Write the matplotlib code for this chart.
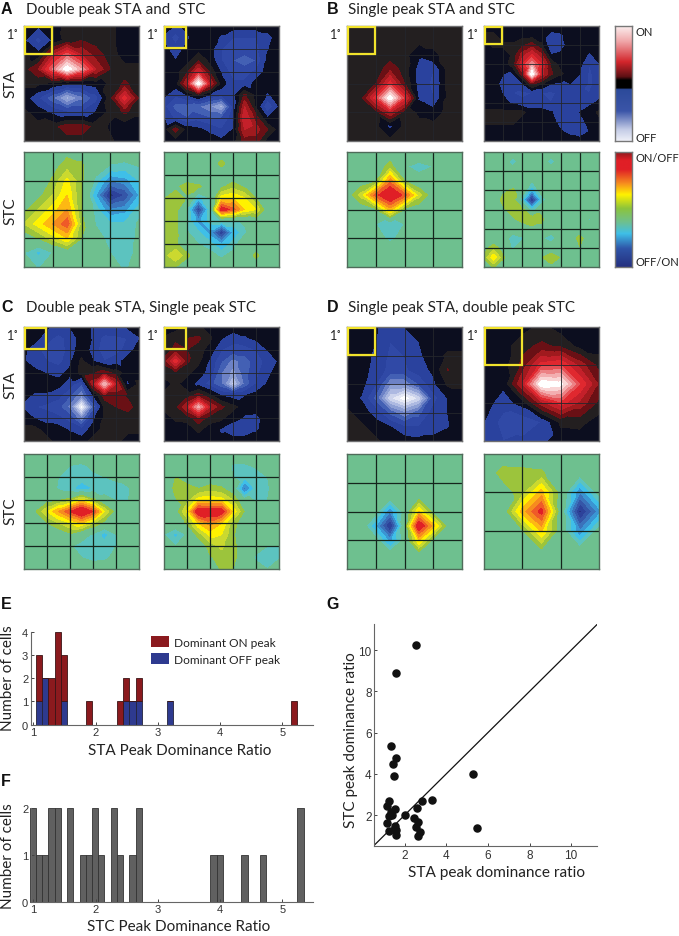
import numpy as np
import matplotlib
matplotlib.use("Agg")
import matplotlib.pyplot as plt
import matplotlib.tri as mtri
from matplotlib.colors import LinearSegmentedColormap
from matplotlib.patches import Patch, Rectangle

W, H = 679, 937

# response maps, rows go top to bottom, -10 .. 10 scale
A1_STA = [[-.5, -.9, -.5, .3, .3, .3, .3, -.5, -.5],
          [-.9, -2.4, -.9, .4, 1.0, .6, .3, -.5, -.5],
          [.3, -.6, 3, 5.5, 3, 1.5, .5, -.5, -.5],
          [.5, 2, 6, 10, 7, 3, 1, .3, .3],
          [.2, .2, -.2, -.9, -.9, -.6, .2, 1.2, .3],
          [-.5, -2, -4, -6.5, -4.5, -2.5, .6, 4.5, .8],
          [.2, -.5, -1.3, -2, -2, -1, .3, 1.2, .3],
          [.3, .3, .6, 1.6, 1.6, .6, -.2, -.7, -.7],
          [.3, .3, .3, .5, .5, .3, .2, -.6, -.7]]
A1_STC = [[0, 0, 0, .6, .6, 0, 0, 0, 0],
          [0, 0, .5, 1.6, 1.2, 0, -1.2, -1.5, -1],
          [0, 0, 1.2, 3.3, 1.2, -1.5, -4, -3.5, -2],
          [0, .6, 2, 4, 1, -3, -7.5, -6, -3],
          [.6, 2, 3.5, 5, 1, -1.5, -4, -3.5, -1.5],
          [2, 3.5, 5, 6.7, 1.5, -1.1, -1.8, -1.8, -.8],
          [0, 1, 2.5, 4, 1, -.5, -1.4, -1.8, -.7],
          [-1, -2.3, -1, 0, 0, 0, -1, -1.5, -.7],
          [0, -1.2, 0, 0, 0, 0, -.5, -1.2, -.5]]
A2_STA = [[-.5, -1.1, -.8, -.5, -.5, -.5, -.5, -.5, -.5, -.5, -.5],
          [-1.2, -2.5, -1.2, -.5, -.5, -1.2, -2, -2, -2, -1.4, -.5],
          [-.7, -1.6, -.7, -.5, -.6, -2, -2.5, -2.5, -2.4, -1.1, -.5],
          [-.5, -1, -.5, 1, -.4, -2, -3, -3.5, -3, -.8, -.5],
          [-.5, -.5, .8, 4, .8, -1.2, -2.5, -2.5, -1.8, -.5, -.5],
          [-.5, -.5, 3, 10, 3, -.5, -1.8, -1.8, -.6, -.5, -.5],
          [-.8, -1.8, -1, .3, -1.2, -1.8, -1.5, 1.2, -.3, -1.2, -.5],
          [-1.8, -3.5, -3.5, -4, -5, -6.5, -2, 3, -.2, -3, -1],
          [-1, -2.3, -3, -2.5, -3, -3, -1.5, 4, 1.5, -1, -.5],
          [-.5, 1.5, -.5, -.8, -1.3, -2, -1, 3, 2.5, 1, -.5],
          [-.5, -.5, -.5, -.5, -.5, -.8, -.5, 1.5, 1.5, -.5, -.5]]
A2_STC = [[0, 0, 0, 0, 0, 0, 0, 0, 0, 0, 0],
          [0, 0, 0, 0, 0, 1.4, 0, 0, 0, 0, 0],
          [0, 0, 0, 0, 0, 0, 0, 0, 0, 0, 0],
          [0, .7, 1.5, 1.2, .5, .7, 1.6, .8, 0, 0, 0],
          [.9, 1.6, .8, -2.5, -1, 3.5, 4, 3, 1, 0, 0],
          [1.5, 1.6, -1.2, -6.5, -1.5, 8, 6.5, 4, 3, 0, 0],
          [1.5, 1.5, -1.2, -3.5, -1.6, -1.2, -1.2, -.8, 0, 0, 0],
          [1.5, 1.3, -.9, -1.8, -3.5, -7, -3, -1.3, 0, 0, 0],
          [1, 1.2, 0, -1, -1.6, -3, -1.6, 0, 0, 0, 0],
          [1.5, 3, 1.3, 0, -.5, -1.3, -.5, 0, 1.3, 0, 0],
          [1, 1, 0, 0, 0, 0, 0, 0, 0, 0, 0]]
B1_STA = [[.3, .3, .3, .3, .3, .3, .3, .3, .3],
          [.3, .3, .3, .3, .3, .3, .3, .3, .3],
          [.3, .3, .3, .4, .3, -.8, -.2, .3, .3],
          [.3, .3, .3, 1.7, .5, -1.5, -2, .3, .3],
          [.3, .3, 1, 4.5, 1, -1.5, -2.2, .3, .3],
          [.3, .7, 4.5, 10, 4.5, -1.2, -2, .2, .3],
          [.3, .3, .5, 3, .5, -.2, -.6, .3, .3],
          [.3, .3, .3, -1.3, .3, .3, .3, .3, .3],
          [.3, .3, .3, .3, .3, .3, .3, .3, .3]]
B1_STC = [[0, 0, 0, 0, 0, 0, 0, 0, 0],
          [0, 0, 0, 1.5, -.9, -1.4, -1, 0, 0],
          [0, 0, .8, 5.5, 1, -.5, 0, 0, 0],
          [0, 2.5, 6.5, 9, 6.5, 2.5, 0, 0, 0],
          [0, 0, .8, 4.5, .8, 0, 0, 0, 0],
          [0, -.7, -1, -1.9, -1, -.5, 0, 0, 0],
          [0, 0, -.3, -1.4, -.3, 0, 0, 0, 0],
          [0, 0, 0, 0, 0, 0, 0, 0, 0],
          [0, 0, 0, 0, 0, 0, 0, 0, 0]]
B2_STA = [[-.5, -.5, -.5, -.5, -.5, -.5, -.5, -.5, -.5, -.5, -.5, -.5, -.5],
          [.2, .2, -.5, -.5, -.4, -.4, -.5, -1.4, -1.2, -.6, -.5, -.5, -.5],
          [-.5, .2, .2, .2, .8, 1.5, .2, -2, -1.5, -.5, -.5, -.5, -.5],
          [-.5, -.5, -.5, .2, 2.5, 4, 2.2, -1, -.8, -.5, -.5, -1.2, -.5],
          [-.5, -.5, -.5, .5, 4, 7, 4, .8, -.4, -.5, -.8, -2, -1.1],
          [-.5, -.5, -1, -1.2, 1.5, 10, 3.5, 1.2, .2, -.6, -1, -2.2, -1.5],
          [-.5, -.5, -1.5, -1.6, -1.2, 1.5, .2, -1, -1.2, -1, -1.1, -2.3, -1.5],
          [-.6, -.5, -1.1, -2, -2.2, -2, -2, -2.2, -1.8, -1.5, -1.8, -2, -1.5],
          [-.5, -.5, -.7, -1.2, -1.8, -1.8, -2, -2, -1.8, -1.3, -1.3, -1.3, -.8],
          [.2, .2, .2, .2, .2, -.5, -.5, -.9, -1.6, -1.5, -1, -.5, .2],
          [.2, .2, .2, .2, -.5, -.5, -.5, -.5, -1.5, -1.8, -1.5, -.6, -.3],
          [-.5, -.5, -.5, -.5, -.5, -.5, -.5, -.5, -.9, -1.4, -1.8, -1, -.5],
          [-.5, -.5, -.5, -.5, -.5, -.5, -.5, -.5, -.5, -.5, -.5, -.5, -.5]]
B2_STC = [[0, 0, 0, 0, 0, 0, 0, 0, 0, 0, 0, 0, 0],
          [0, 0, 0, -1.8, 0, 0, 0, -1.8, 0, 0, 0, 0, 0],
          [0, 0, 0, 0, 0, 0, 0, 0, 0, 0, 0, 0, 0],
          [0, 0, 0, 0, 0, -1, 0, 0, 0, 0, 0, 0, 0],
          [0, 0, .7, 1.2, .3, -3, 0, 0, 0, 0, 0, 0, 0],
          [0, 0, 1.4, 1.5, -2, -7.5, -2, 0, 0, 0, 0, 0, 0],
          [0, 0, .8, 1.5, 1.4, -2, .4, 0, 0, 0, 0, 0, 0],
          [0, 0, 0, .8, 1.5, 2, 1.3, 0, 0, 0, 0, -1.2, 0],
          [0, 0, 0, 0, 0, .6, .7, 0, 0, 0, 0, 0, 0],
          [0, 0, 0, -1.8, -1.2, 0, -.9, -1.8, 0, 0, 1.5, 0, 0],
          [.6, 1.5, .5, -1.3, 0, 0, 0, 0, 0, 0, .9, 0, 0],
          [1.2, 3.8, 1.2, 0, 0, 0, .9, 1.8, .9, 0, 0, 0, 0],
          [0, 1.1, 0, 0, 0, 0, 0, .6, 0, 0, 0, 0, 0]]
C1_STA = [[-.5, -.5, -.9, -1.2, -1, -.5, -1.1, -1, -1, -.9, -.5],
          [-.5, -.7, -1.6, -2.5, -1.6, -.6, -1.1, -2.5, -2.3, -2, -1.1],
          [-.8, -1.7, -2.5, -3, -1.5, -.5, -1.3, -2.8, -2.5, -1.6, -.5],
          [-.9, -1.7, -2, -2.5, -1.2, .2, -1, -2, -1.5, -.5, -.5],
          [-.5, -.7, -1.1, -1.3, -.8, .3, .8, 1.5, .5, -.5, -.5],
          [-.5, -.5, -.5, -.7, -1.5, -3, 2.5, 8, 3, -1.3, .2],
          [-.8, -1.2, -1.2, -1.7, -3, -5, -1.2, 1.5, 1.5, .8, .3],
          [-1.2, -2, -2.3, -2.7, -4.5, -10, -4, .2, 1, 1.5, .3],
          [-.5, -1.1, -1.5, -1.8, -2.5, -5, -1.4, .2, .3, .3, .3],
          [.3, .3, -.5, -.5, -1.2, -1.8, -.5, .3, .3, .3, .3],
          [.3, .3, .3, -.5, -.5, -.5, .3, .3, .3, -.5, -.5]]
C1_STC = [[0, 0, 0, 0, 0, 0, 0, 0, 0, 0, 0],
          [0, .8, 0, 0, -1, -1.2, -.8, 0, 0, 0, 0],
          [0, 0, 0, -1, -1.5, -1.6, -1.2, -1, -.7, 0, 0],
          [0, 0, 0, -1.2, -1.8, -2.5, -2, -1.6, -1.5, -1.3, 0],
          [0, 0, .3, .8, 1.5, 3.5, 1.5, -.5, -1.1, -1.1, 0],
          [0, .9, 3, 5, 7, 9, 7, 3, .3, 0, 0],
          [0, 0, .9, 2, 3, 4, 2.2, .5, 0, 0, 0],
          [0, 0, 0, 0, .7, -.4, -1.2, -2.5, -1, 0, 0],
          [0, 0, 0, 0, -.9, -1.4, -1.5, -1.5, -1, 0, 0],
          [0, 0, 0, 0, 0, -1, -1.5, -1.4, -.5, 0, 0],
          [0, 0, 0, 0, 0, 0, 0, 0, 0, 0, 0]]
C2_STA = [[-.5, -.5, .2, .2, -.5, -.5, -.5, -.5, -.5, -.5, -.5],
          [.2, .8, 1, 1.2, .2, -1, -1.6, -1.2, -.8, -.5, -.5],
          [.3, 1.3, 1, .5, -.5, -2, -2.5, -2.5, -2, -1, -.5],
          [1.3, 4.5, 1.2, .2, -1.2, -3, -4.5, -3.5, -2.5, -1.7, -.9],
          [.3, .8, .3, -.5, -1.5, -4, -5.5, -3.5, -2.3, -1.3, -.5],
          [-.4, .2, -.5, -1.4, -2.5, -4, -7.5, -4, -2, -.9, -.5],
          [.2, .2, .4, 1.5, .2, -1.1, -1.5, -1.1, -.6, -.5, -.5],
          [.2, .6, 3, 7.5, 3, 1.2, .3, -.5, -.5, -.5, -.5],
          [-.5, .2, .3, 1.8, .4, .2, -.6, -1.2, -1.4, -.5, -.5],
          [-.5, -.5, -.5, .2, -.5, -1.2, -1.8, -1.8, -1.2, -.5, -.5],
          [-.5, -.5, -.5, -.5, -.5, -.7, -.5, -.5, -.5, -.5, -.5]]
C2_STC = [[0, 0, 0, 0, 0, 0, 0, 0, 0, 0, 0],
          [0, 0, 0, 0, 0, 0, -1.2, -1.2, -.8, 1, 0],
          [0, 1, .5, 0, 0, 0, -1, -1.7, -1.6, -1, 0],
          [0, 1.3, 1.3, 1, 1.5, 1.2, 0, -4.5, -1.6, -1.2, 0],
          [0, .9, 1.5, 3.5, 3.7, 3.4, 2, -.7, -1.1, -1, 0],
          [0, .3, 3.2, 8.5, 8, 8, 3.8, .9, 0, 0, 0],
          [0, .3, 1.2, 4, 5.5, 4, 1.5, 0, 0, 0, 0],
          [-1, -2.4, -.8, 1.5, 3.3, 3, 1.2, 0, 0, 0, 0],
          [0, -1, 0, 0, 1.5, 2.2, 1.4, 0, -.5, -1, -1],
          [0, 0, 0, 0, .8, 1.6, 1.4, 0, -1.2, -1.8, -1.1],
          [0, 0, 0, 0, 0, 1.1, 1, 0, -.5, -1, -.5]]
D1_STA = [[-.5, -.5, -.9, -1.5, -1, -.5, -.5, -.5, -.5],
          [-.3, -.5, -1, -2, -1.5, -1, -.5, -.5, -.5],
          [.2, -.5, -1.3, -2.2, -2, -1.2, -.5, .2, .2],
          [-.5, -.5, -1.5, -2.3, -2.2, -1.5, -.8, 1.05, .2],
          [-.5, -.7, -2, -5, -5, -3, -1.3, .2, .2],
          [-.5, -1.1, -3.5, -8, -10, -8, -2.5, -1, -.5],
          [.2, -.5, -1.5, -3.5, -5, -3.5, -1.6, -1, -.5],
          [.2, .2, -.5, -1, -2, -2, -1.5, -1.1, -.5],
          [.2, .2, .2, -.5, -.5, -.7, -.7, -.5, -.5]]
D1_STC = [[0, 0, 0, 0, 0, 0, 0, 0, 0],
          [0, 0, 0, 0, 0, 0, 0, 0, 0],
          [0, 0, 0, 0, 0, 0, 0, 0, 0],
          [0, 0, 0, -.3, 0, .3, 0, 0, 0],
          [0, 0, -.5, -4, -.5, 4, .5, 0, 0],
          [0, 0, -3, -7.5, 0, 8.5, 4.5, .3, 0],
          [0, 0, -.5, -3.5, -.5, 4, .5, 0, 0],
          [0, 0, 0, -.3, 0, .3, 0, 0, 0],
          [0, 0, 0, 0, 0, 0, 0, 0, 0]]
D2_STA = [[-.5, -.5, -.5, .3, -.5, -.5, -.5],
          [-.5, -.5, .7, 1.2, .8, -.4, -.5],
          [-.5, -.5, 1.3, 4.5, 5, 2.6, .6],
          [-.5, -.8, 3, 10, 9.5, 5, 1.8],
          [-.6, -1.5, -.6, 2.5, 4.5, 2.7, .7],
          [-1, -2.5, -2.8, -2, .2, .3, -.5],
          [-1.5, -2, -1.8, -1.3, -.5, -.5, -.5]]
D2_STC = [[0, 0, 0, 0, 0, 0, 0],
          [0, 1.5, 1.4, 1.2, 0, -.5, 0],
          [0, .3, 1.6, 4.5, .3, -4, -.5],
          [0, 0, 4.5, 7.5, 0, -7.5, -3.5],
          [0, 0, .8, 4.2, 0, -4, -.5],
          [0, 0, 0, .8, 0, -.5, 0],
          [0, 0, 0, 0, 0, 0, 0]]

# histogram E, bin centres and counts
sta_bins = [1.09, 1.19, 1.29, 1.39, 1.49, 1.89, 2.39, 2.49, 2.59, 2.69, 3.19, 5.19]
sta_off = [1, 2, 0, 0, 1, 0, 0, 1, 1, 1, 1, 0]
sta_on = [2, 0, 2, 4, 2, 1, 1, 1, 0, 1, 0, 1]

# histogram F
stc_bins = [0.99, 1.09, 1.19, 1.29, 1.39, 1.59, 1.79, 1.89, 1.99, 2.09, 2.29, 2.39,
            2.59, 2.69, 3.89, 3.99, 4.39, 4.69, 5.29]
stc_counts = [2, 1, 1, 2, 2, 2, 1, 1, 2, 1, 2, 1, 1, 2, 1, 1, 1, 1, 2]

# scatter G
sta_ratio = [2.53, 1.57, 1.34, 1.6, 1.44, 1.5, 5.29, 5.49, 3.3, 2.82, 1.25, 1.15, 1.54, 2.59,
             1.33, 1.37, 1.23, 2.0, 2.45, 2.64, 1.15, 1.54, 2.53, 1.6, 1.23, 2.74, 1.57, 2.64]
stc_ratio = [10.25, 8.88, 5.34, 4.76, 4.46, 3.92, 3.99, 1.35, 2.74, 2.69, 2.68, 2.45, 2.31, 2.32,
             2.16, 2.02, 1.94, 2.02, 1.85, 1.66, 1.63, 1.47, 1.4, 1.29, 1.22, 1.16, 1.01, 1.0]

sta_levels = [-11, -9, -8, -7, -6, -5, -4, -3, -2, -1, 0, 1, 2, 3, 4, 5, 6, 7, 8, 9, 11]
sta_colors = ["#ffffff", "#e6e9f5", "#ccd3ec", "#adb9e1", "#8d9fd4", "#6d82c6", "#4360b4",
              "#3049a6", "#2a429e", "#0c0e1f", "#231f20", "#6a1015", "#a01a1e", "#c4202a",
              "#e0282f", "#e65055", "#ec8285", "#f3aeb0", "#f9d5d5", "#ffffff"]
stc_levels = [-11, -7, -6, -5, -4, -3, -2, -1, 1, 2, 3, 4, 5, 6, 7, 11]
stc_colors = ["#25307f", "#2d429a", "#3556a8", "#3b72bb", "#3a95d3", "#3fbfe8", "#5cc3bf",
              "#6ec08f", "#9cc43c", "#cbd92f", "#fff200", "#fdb813", "#f68b1f", "#ef5a28",
              "#e01f26"]

FONT = "Lato"
NUM_FONT = "Liberation Sans"
plt.rcParams["font.family"] = [FONT, "DejaVu Sans"]
fig = plt.figure(figsize=(W / 100, H / 100), dpi=100)


def px_axes(x0, y0, x1, y1):
    return fig.add_axes([x0 / W, 1 - y1 / H, (x1 - x0) / W, (y1 - y0) / H])


def px_text(x, y, s, **kw):
    fig.text(x / W, 1 - y / H, s, **kw)


def grid_triangles(z):
    # split every cell along the diagonal with the smaller step so peaks stay diamonds
    rows, cols = z.shape
    tris = []
    for r in range(rows - 1):
        for c in range(cols - 1):
            a, b = r * cols + c, r * cols + c + 1
            d, e = (r + 1) * cols + c, (r + 1) * cols + c + 1
            if abs(z[r, c] - z[r + 1, c + 1]) > abs(z[r, c + 1] - z[r + 1, c]):
                tris += [[a, b, d], [b, e, d]]
            else:
                tris += [[a, b, e], [a, e, d]]
    return tris


def draw_map(box, z, cells, levels, colors, line_color, edge, lw):
    ax = px_axes(*box)
    z = np.array(z, dtype=float)
    xs, ys = np.meshgrid(np.linspace(0, cells, z.shape[1]), np.linspace(0, cells, z.shape[0]))
    tri = mtri.Triangulation(xs.ravel(), ys.ravel(), grid_triangles(z))
    ax.tricontourf(tri, z.ravel(), levels=levels, colors=colors)
    ax.set_xlim(0, cells)
    ax.set_ylim(cells, 0)
    ax.set_xticks([])
    ax.set_yticks([])
    for i in range(1, cells):
        ax.axvline(i, color=line_color, lw=lw)
        ax.axhline(i, color=line_color, lw=lw)
    for s in ax.spines.values():
        s.set_color(edge)
        s.set_linewidth(1.0)
    return ax


sta_line = "#24262c"
stc_line = "#15251c"
col_x = [(24, 139), (164, 279), (347, 462), (484, 599)]
top_rows = [(27, 142), (153, 268)]
low_rows = [(328, 442), (455, 570)]

panels = [(col_x[0], top_rows, A1_STA, A1_STC, 4), (col_x[1], top_rows, A2_STA, A2_STC, 5),
          (col_x[2], top_rows, B1_STA, B1_STC, 4), (col_x[3], top_rows, B2_STA, B2_STC, 6),
          (col_x[0], low_rows, C1_STA, C1_STC, 5), (col_x[1], low_rows, C2_STA, C2_STC, 5),
          (col_x[2], low_rows, D1_STA, D1_STC, 4), (col_x[3], low_rows, D2_STA, D2_STC, 3)]
box_sizes = [27, 21, 27, 17, 21, 21, 27, 37]

for (cx, rows, sta, stc, cells), bs in zip(panels, box_sizes):
    sta_box = (cx[0], rows[0][0], cx[1], rows[0][1])
    stc_box = (cx[0], rows[1][0], cx[1], rows[1][1])
    draw_map(sta_box, sta, cells, sta_levels, sta_colors, sta_line, "#6e6e70", 0.6)
    draw_map(stc_box, stc, cells, stc_levels, stc_colors, stc_line, "#4f6b5a", 0.9)
    fig.add_artist(Rectangle(((cx[0] + 1) / W, 1 - (rows[0][0] + 1 + bs) / H), bs / W, bs / H,
                             transform=fig.transFigure, fill=False, ec="#f2e32c", lw=1.6))
    px_text(cx[0] - 5, rows[0][0] + 8, "1˚", fontsize=9, color="#222222", ha="right", va="center")

for y, s in [(84, "STA"), (211, "STC"), (385, "STA"), (511, "STC")]:
    px_text(10, y, s, fontsize=11, rotation=90, ha="center", va="center", color="#222222")

titles = [(26, 10, "Double peak STA and  STC"), (348, 10, "Single peak STA and STC"),
          (26, 308, "Double peak STA, Single peak STC"), (348, 308, "Single peak STA, double peak STC")]
for x, y, s in titles:
    px_text(x, y, s, fontsize=10.9, ha="left", va="center", color="#222222")

letters = [(1, 10, "A"), (327, 10, "B"), (1, 308, "C"), (327, 308, "D"),
           (1, 605, "E"), (1, 781, "F"), (326, 605, "G")]
for x, y, s in letters:
    px_text(x, y, s, fontsize=11.5, weight="bold", ha="left", va="center", color="#111111",
            family=NUM_FONT)

# colour bars
sta_ramp = LinearSegmentedColormap.from_list(
    "sta_ramp", [(0, "#eef0f8"), (0.1, "#c3cbe6"), (0.26, "#3b55a8"), (0.45, "#2c4a9a"), (0.46, "#000000"),
                 (0.53, "#000000"), (0.56, "#5e1014"), (0.69, "#d3262c"), (0.87, "#f0a8aa"), (1, "#fbeeee")])
stc_ramp = LinearSegmentedColormap.from_list(
    "stc_ramp", [(0, "#25307f"), (0.16, "#2f55a8"), (0.29, "#3fbfe8"), (0.39, "#6ec08f"), (0.51, "#8cc43c"),
                 (0.63, "#fff200"), (0.73, "#f68b1f"), (0.85, "#e01f26"), (0.93, "#e01f26"), (1, "#8f1a1e")])
ramp = np.linspace(0, 1, 256).reshape(-1, 1)
for rows, cmap in zip(top_rows, [sta_ramp, stc_ramp]):
    cax = px_axes(615, rows[0], 632, rows[1])
    cax.imshow(ramp, cmap=cmap, origin="lower", aspect="auto")
    cax.set_xticks([])
    cax.set_yticks([])
    for s in cax.spines.values():
        s.set_color("#777777")
        s.set_linewidth(1.0)
for y, s in [(32, "ON"), (138, "OFF"), (159, "ON/OFF"), (263, "OFF/ON")]:
    px_text(636, y, s, fontsize=8.0, ha="left", va="center", color="#222222")


def style_axes(ax, tick_size):
    ax.spines["top"].set_visible(False)
    ax.spines["right"].set_visible(False)
    ax.spines["left"].set_color("#666666")
    ax.spines["bottom"].set_color("#666666")
    ax.tick_params(direction="in", length=2.5, width=0.7, color="#444444", labelsize=tick_size,
                   labelcolor="#333333", pad=2, labelfontfamily=NUM_FONT)


# E
ax_e = px_axes(31, 632.7, 313, 725.7)
ax_e.bar(sta_bins, sta_off, width=0.1, color="#2e3a8f", edgecolor="#23233a", lw=0.6, clip_on=False)
ax_e.bar(sta_bins, sta_on, width=0.1, bottom=sta_off, color="#8b1a1e", edgecolor="#3a1416", lw=0.6, clip_on=False)
ax_e.set_xlim(0.96, 5.49)
ax_e.set_xticks([1, 2, 3, 4, 5])
ax_e.set_ylim(0, 4)
ax_e.set_yticks([0, 1, 2, 3, 4])
style_axes(ax_e, 8)
px_text(180, 751, "STA Peak Dominance Ratio", fontsize=11, color="#222222", ha="center", va="center")
px_text(8.5, 678, "Number of cells", fontsize=11, color="#222222", rotation=90, ha="center", va="center")
ax_e.legend(handles=[Patch(fc="#8b1a1e", label="Dominant ON peak"), Patch(fc="#2e3a8f", label="Dominant OFF peak")],
            loc="upper left", bbox_to_anchor=(0.425, 0.95), frameon=False, fontsize=8.6, handlelength=1.5,
            handleheight=1.0, handletextpad=0.45, labelspacing=0.45, borderpad=0, borderaxespad=0,
            labelcolor="#222222")

# F
ax_f = px_axes(31, 809.3, 313, 902.7)
ax_f.bar(stc_bins, stc_counts, width=0.1, color="#606060", edgecolor="#333333", lw=0.6, clip_on=False)
ax_f.set_xlim(0.96, 5.49)
ax_f.set_xticks([1, 2, 3, 4, 5])
ax_f.set_ylim(0, 2)
ax_f.set_yticks([0, 1, 2])
style_axes(ax_f, 8)
px_text(179, 927, "STC Peak Dominance Ratio", fontsize=11, color="#222222", ha="center", va="center")
px_text(8.5, 856, "Number of cells", fontsize=11, color="#222222", rotation=90, ha="center", va="center")

# G
ax_g = px_axes(374.3, 625, 596.7, 847)
ax_g.plot([0.5, 11.25], [0.5, 11.25], color="#111111", lw=0.9)
ax_g.scatter(sta_ratio, stc_ratio, s=26, color="#111111", zorder=3, clip_on=False)
ax_g.set_xlim(0.54, 11.23)
ax_g.set_ylim(0.5, 11.27)
ax_g.set_xticks([2, 4, 6, 8, 10])
ax_g.set_yticks([2, 4, 6, 8, 10])
style_axes(ax_g, 8.5)
px_text(497, 873, "STA peak dominance ratio", fontsize=11.1, color="#222222", ha="center", va="center")
px_text(351, 740, "STC peak dominance ratio", fontsize=11, color="#222222", rotation=90, ha="center", va="center")

fig.savefig("out.png", dpi=100)
